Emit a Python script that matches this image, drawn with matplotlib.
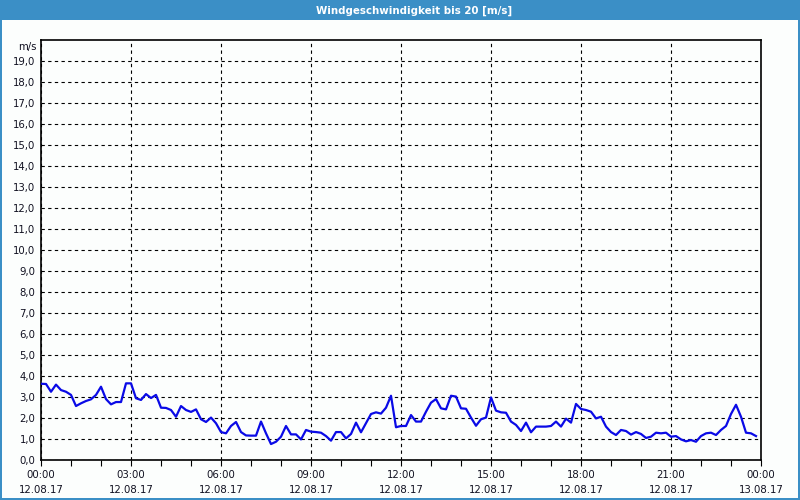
import numpy as np
import matplotlib
matplotlib.use("Agg")
import matplotlib.pyplot as plt
from matplotlib.patches import Rectangle

# ---- data ----
title = "Windgeschwindigkeit bis 20 [m/s]"
unit_label = "m/s"
interval_minutes = 10
wind_speed = [
    3.63, 3.62, 3.25, 3.59, 3.33, 3.25, 3.10, 2.57, 2.70, 2.81, 2.89, 3.10,
    3.49, 2.90, 2.65, 2.76, 2.76, 3.65, 3.65, 2.94, 2.86, 3.14, 2.95, 3.10,
    2.49, 2.48, 2.38, 2.06, 2.57, 2.38, 2.29, 2.41, 1.94, 1.81, 2.02, 1.75,
    1.33, 1.27, 1.62, 1.81, 1.33, 1.17, 1.16, 1.16, 1.83, 1.27, 0.76, 0.87,
    1.11, 1.62, 1.22, 1.22, 0.98, 1.43, 1.35, 1.33, 1.30, 1.14, 0.92, 1.33,
    1.33, 1.03, 1.24, 1.78, 1.32, 1.75, 2.19, 2.27, 2.21, 2.49, 3.06, 1.56,
    1.62, 1.62, 2.14, 1.83, 1.83, 2.30, 2.73, 2.90, 2.46, 2.41, 3.06, 3.02,
    2.46, 2.44, 2.02, 1.63, 1.94, 2.02, 2.98, 2.35, 2.27, 2.25, 1.83, 1.67,
    1.38, 1.78, 1.32, 1.59, 1.59, 1.59, 1.62, 1.83, 1.59, 1.97, 1.78, 2.67,
    2.43, 2.38, 2.30, 1.98, 2.06, 1.59, 1.33, 1.19, 1.43, 1.38, 1.21, 1.33,
    1.24, 1.05, 1.11, 1.30, 1.27, 1.30, 1.11, 1.14, 0.98, 0.89, 0.95, 0.87,
    1.14, 1.27, 1.30, 1.19, 1.43, 1.62, 2.19, 2.63, 2.06, 1.30, 1.27, 1.14,
]
x_tick_hours = [0, 3, 6, 9, 12, 15, 18, 21, 24]
x_tick_labels = ["00:00\n12.08.17", "03:00\n12.08.17", "06:00\n12.08.17",
                 "09:00\n12.08.17", "12:00\n12.08.17", "15:00\n12.08.17",
                 "18:00\n12.08.17", "21:00\n12.08.17", "00:00\n13.08.17"]
y_ticks = list(range(0, 20))
y_tick_labels = [f"{v},0" for v in y_ticks]

hours = np.arange(len(wind_speed)) * interval_minutes / 60.0

# ---- figure ----
W, H = 800, 500
fig = plt.figure(figsize=(W / 100, H / 100), dpi=100)
fig.patch.set_facecolor("#fcfefd")

blue = "#3b8fc6"
# title bar
fig.patches.append(Rectangle((0, 1 - 20 / H), 1, 20 / H, transform=fig.transFigure,
                             facecolor=blue, edgecolor="none", zorder=0))
# window border
for rect in [(0, 0, 1.6 / W, 1), (1 - 1.6 / W, 0, 1.6 / W, 1), (0, 0, 1, 2 / H)]:
    fig.patches.append(Rectangle(rect[:2], rect[2], rect[3], transform=fig.transFigure,
                                 facecolor=blue, edgecolor="none", zorder=0))
fig.text(414 / W, 1 - 10.5 / H, title, color="white", fontsize=7.4, fontweight="bold",
         ha="center", va="center", family="DejaVu Sans")

ax = fig.add_axes([41 / W, 40 / H, 720 / W, 420 / H])
ax.set_facecolor("#fcfefd")
ax.plot(hours, wind_speed, color="#0a0ae6", lw=1.6, zorder=3)

ax.set_xlim(0, 24)
ax.set_ylim(0, 20)
ax.set_xticks(x_tick_hours)
ax.set_xticklabels(x_tick_labels, fontsize=7.3, color="#101020", linespacing=1.7)
ax.set_xticks(np.arange(0, 25, 1), minor=True)
ax.set_yticks(y_ticks)
ax.set_yticklabels(y_tick_labels, fontsize=7.3, color="#101020")
ax.tick_params(axis="x", which="both", direction="out", length=4, width=0.8, pad=3)
ax.tick_params(axis="y", which="both", length=0, pad=4)

ax.grid(True, which="major", color="black", linestyle=(0, (3, 3)), linewidth=0.8)
for sp in ax.spines.values():
    sp.set_color("black")
    sp.set_linewidth(1.2)

fig.text(37 / W, 1 - 47 / H, unit_label, fontsize=7.3, color="#101020",
         ha="right", va="center")

fig.savefig("out.png", dpi=100, facecolor=fig.get_facecolor())
